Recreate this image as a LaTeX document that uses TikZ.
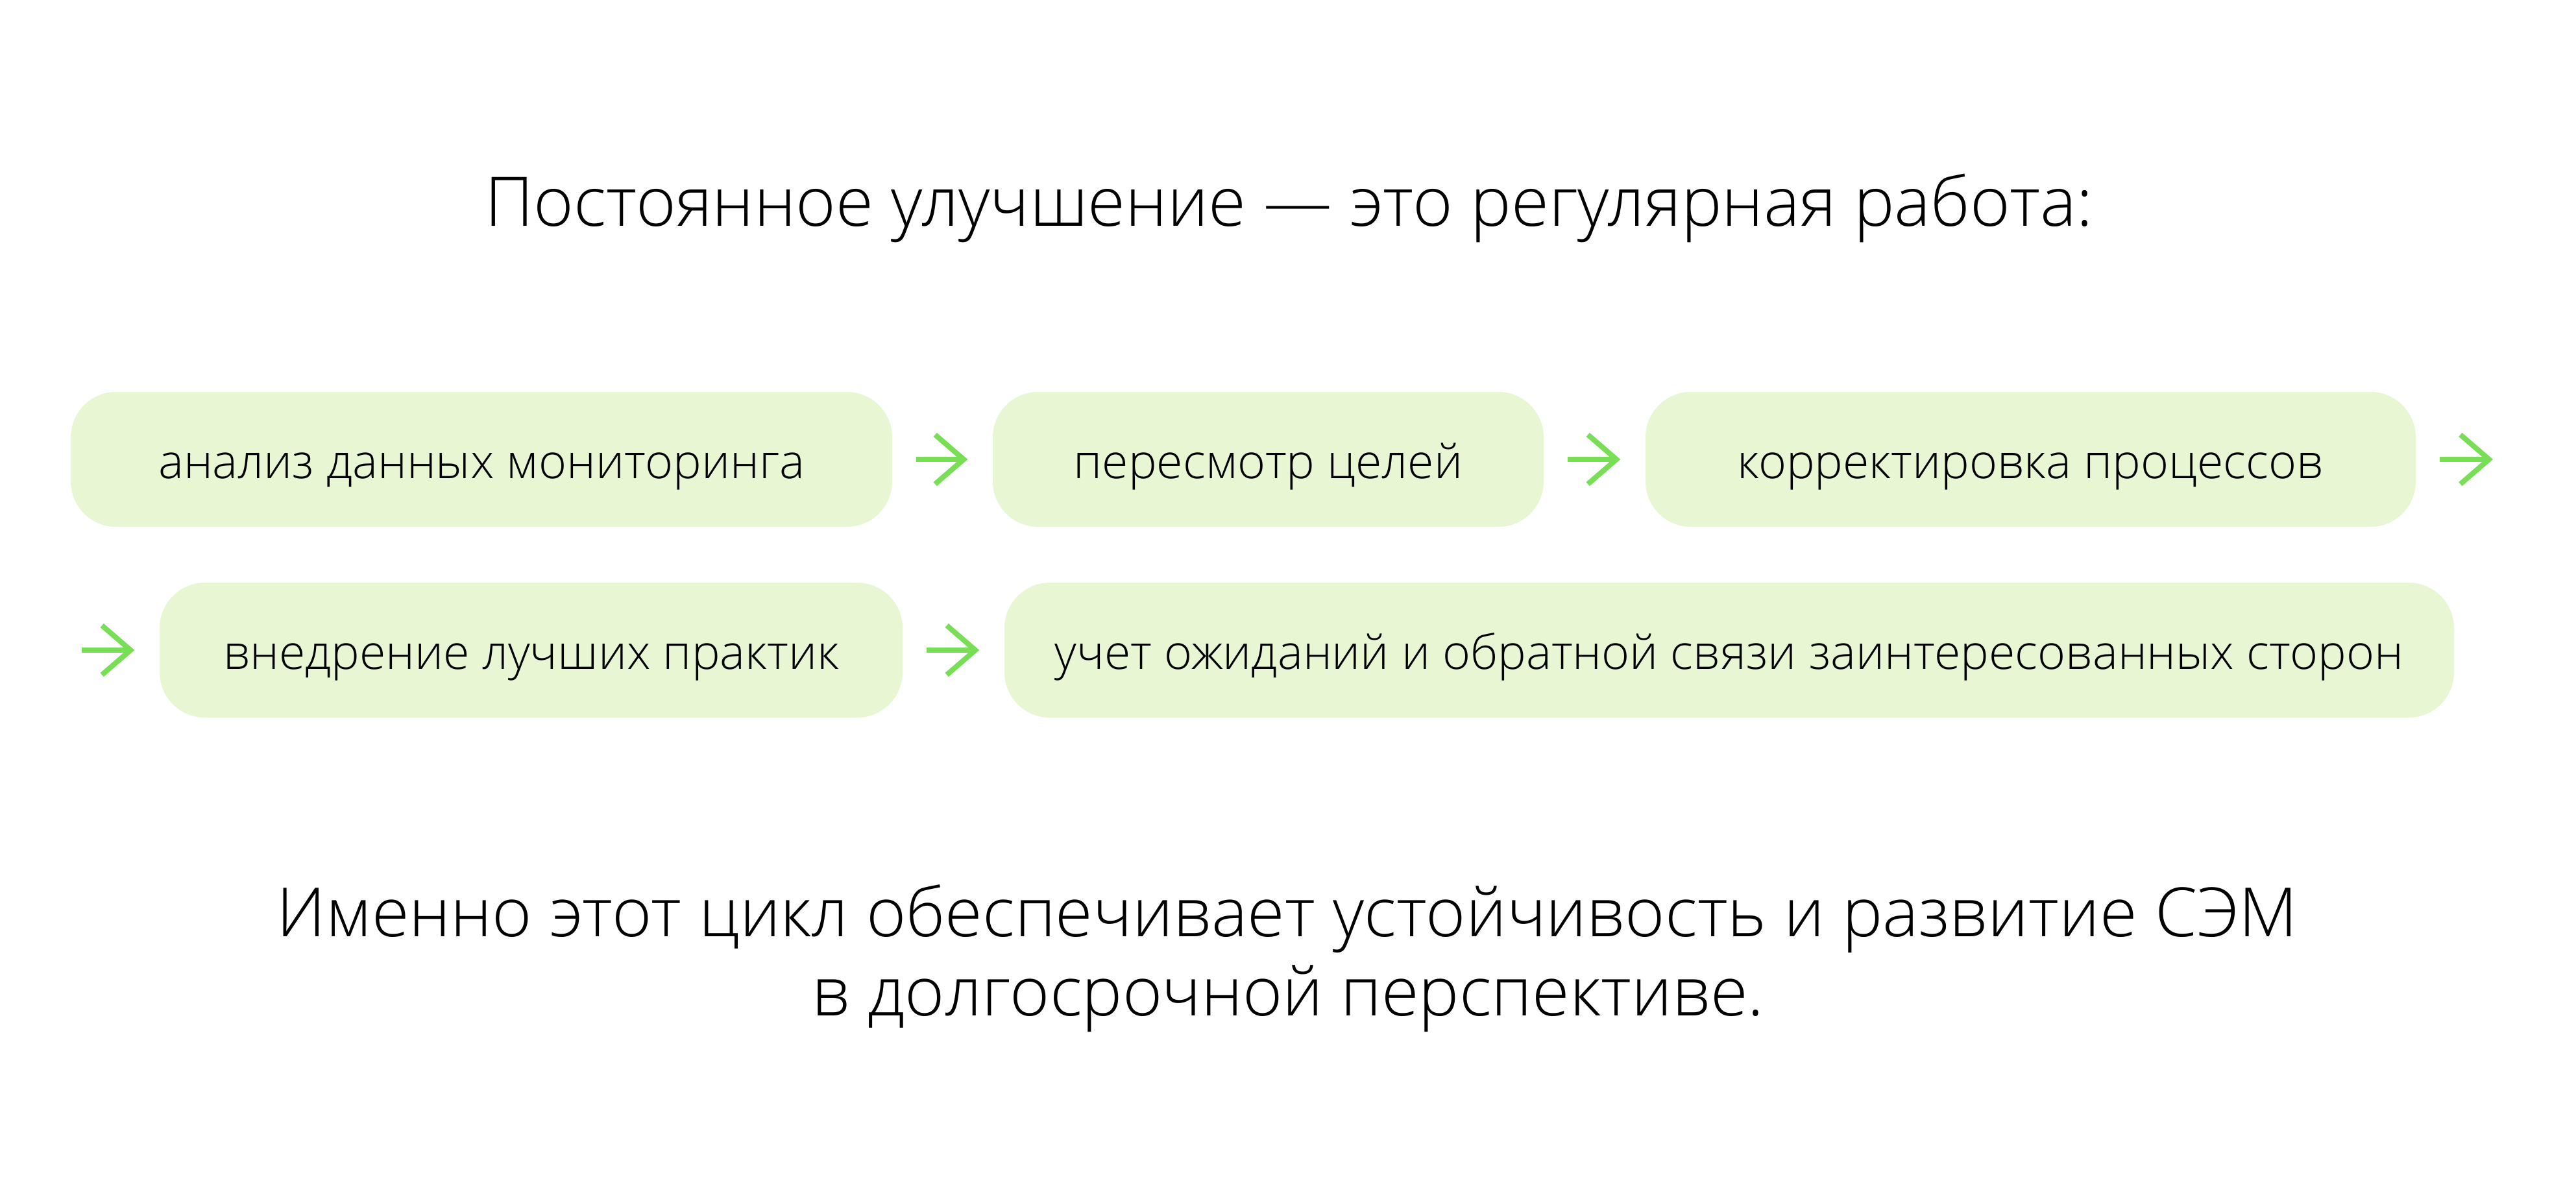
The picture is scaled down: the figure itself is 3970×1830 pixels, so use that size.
\documentclass[tikz,border=0pt]{standalone}
\usepackage{fontspec}
\setmainfont{Open Sans}[UprightFont=* Light]
\usetikzlibrary{arrows.meta}
\definecolor{boxgreen}{RGB}{232,246,212}
\definecolor{arrowgreen}{RGB}{120,222,85}
\tikzset{
  stepbox/.style={rounded corners=7mm, fill=boxgreen, inner sep=0pt,
    minimum height=20.8mm, text height=5.8mm, text depth=0pt,
    font=\fontsize{20.9}{24}\selectfont},
  flowarrow/.style={draw=arrowgreen, line width=0.8mm,
    -{Straight Barb[sharp,length=4.4mm,width=7.6mm]},
    shorten <=3.6mm, shorten >=3.8mm},
  headline/.style={anchor=base, inner sep=0pt, font=\fontsize{30}{35}\selectfont},
  conclline/.style={anchor=base, inner sep=0pt, font=\fontsize{29.8}{35}\selectfont}
}
\begin{document}
\begin{tikzpicture}[x=0.1mm,y=-0.1mm]
\useasboundingbox[fill=white] (0,0) rectangle (3970,1830);
\node[headline] (title) at (1986,348) {Постоянное улучшение — это регулярная работа:};
\node[stepbox, minimum width=126.6mm] (b1) at (742,708) {анализ данных мониторинга};
\node[stepbox, minimum width=84.9mm] (b2) at (1954.5,708) {пересмотр целей};
\node[stepbox, minimum width=118.7mm] (b3) at (3129.5,708) {корректировка процессов};
\node[stepbox, minimum width=114.5mm] (b4) at (818.5,1002) {внедрение лучших практик};
\node[stepbox, minimum width=223.4mm] (b5) at (2665,1002) {учет ожиданий и обратной связи заинтересованных сторон};
\coordinate (endA) at (3880,708);
\coordinate (startB) at (90,1002);
\draw[flowarrow] (b1.east) -- (b2.west);
\draw[flowarrow] (b2.east) -- (b3.west);
\draw[flowarrow] (b3.east) -- (endA);
\draw[flowarrow] (startB) -- (b4.west);
\draw[flowarrow] (b4.east) -- (b5.west);
\node[conclline] (concl1) at (1984,1443) {Именно этот цикл обеспечивает устойчивость и развитие СЭМ};
\node[conclline] (concl2) at (1985,1565) {в долгосрочной перспективе.};
\end{tikzpicture}
\end{document}
